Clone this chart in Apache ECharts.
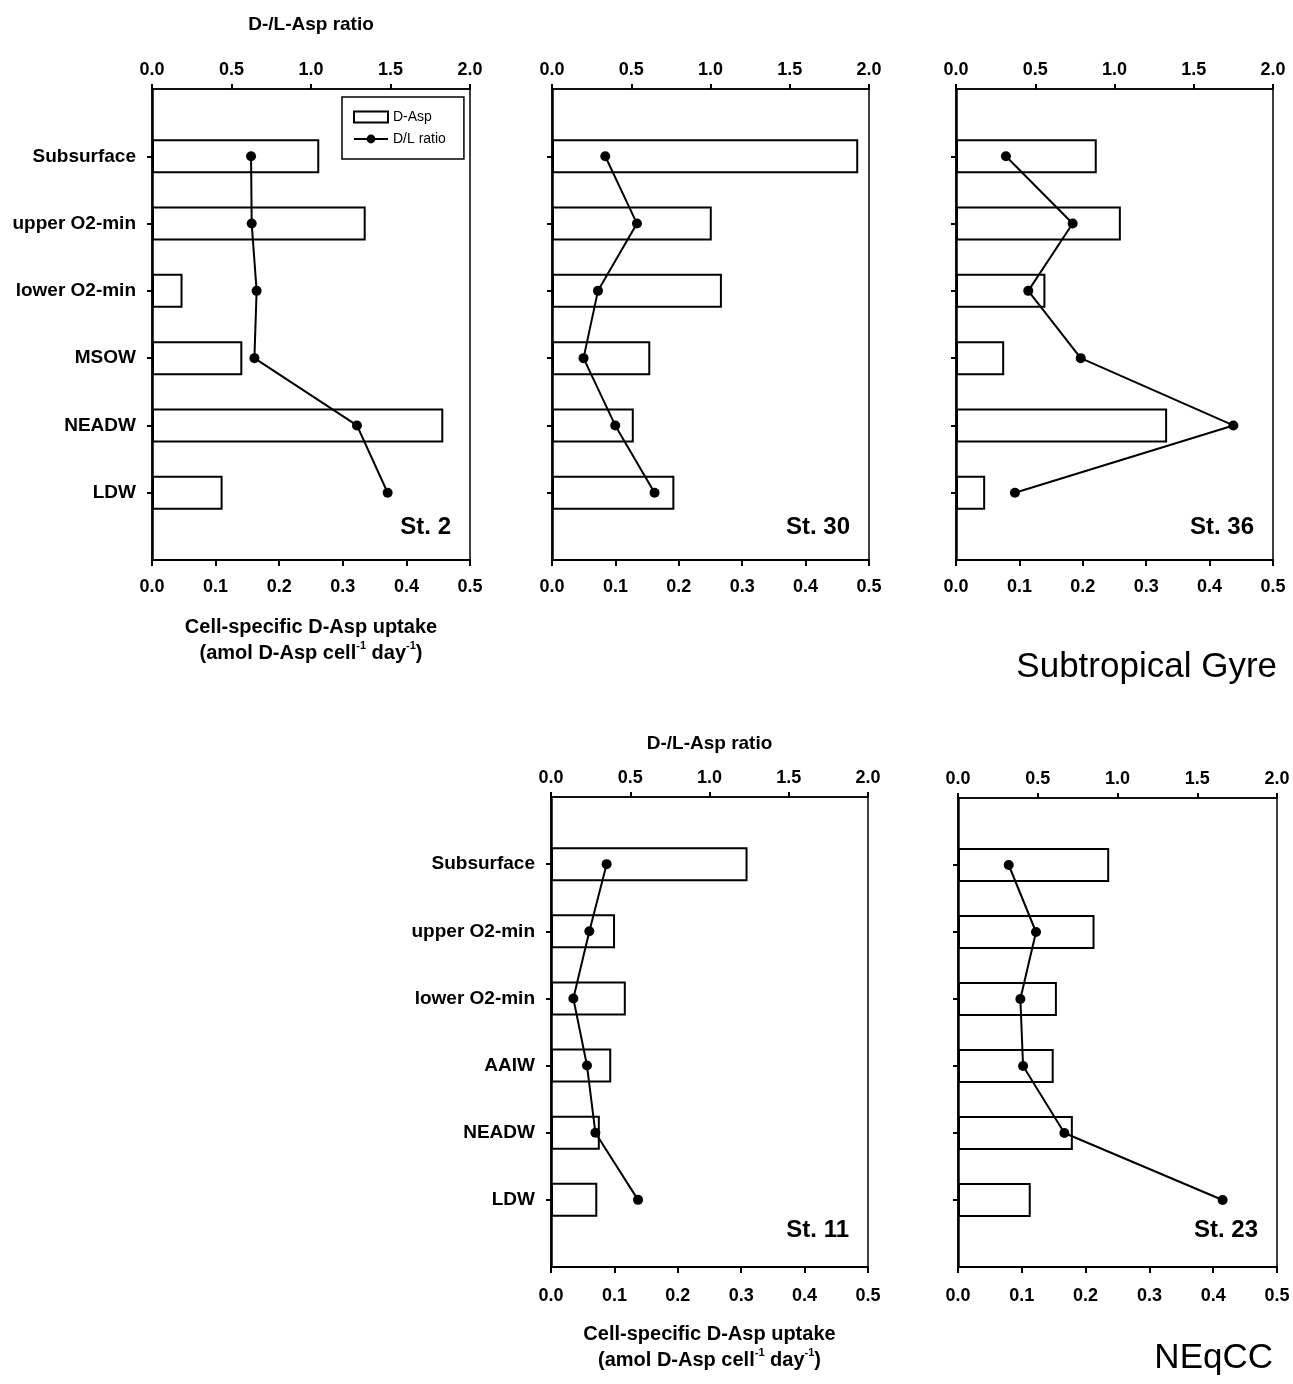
<!DOCTYPE html>
<html>
<head>
<meta charset="utf-8">
<script src="https://cdn.jsdelivr.net/npm/echarts@6/dist/echarts.min.js"></script>
<style>
  html, body { margin: 0; padding: 0; background: #fff; }
  #chart { width: 1293px; height: 1384px; }
</style>
</head>
<body>
<div id="chart"></div>
<script>
// Water masses sampled at each station (top to bottom)
const catsGyre  = ['Subsurface', 'upper O2-min', 'lower O2-min', 'MSOW', 'NEADW', 'LDW'];
const catsNEqCC = ['Subsurface', 'upper O2-min', 'lower O2-min', 'AAIW', 'NEADW', 'LDW'];

// Cell-specific D-Asp uptake (amol D-Asp cell-1 day-1)
const uptakeSt2  = [0.263, 0.336, 0.048, 0.142, 0.458, 0.111];
const uptakeSt30 = [0.483, 0.252, 0.268, 0.155, 0.129, 0.193];
const uptakeSt36 = [0.222, 0.260, 0.141, 0.076, 0.333, 0.046];
const uptakeSt11 = [0.310, 0.101, 0.118, 0.095, 0.077, 0.073];
const uptakeSt23 = [0.237, 0.214, 0.155, 0.150, 0.180, 0.114];

// D-/L-Asp ratio
const ratioSt2  = [0.623, 0.627, 0.658, 0.644, 1.289, 1.482];
const ratioSt30 = [0.336, 0.536, 0.290, 0.199, 0.399, 0.647];
const ratioSt36 = [0.315, 0.736, 0.456, 0.787, 1.750, 0.372];
const ratioSt11 = [0.351, 0.242, 0.141, 0.227, 0.280, 0.549];
const ratioSt23 = [0.318, 0.489, 0.391, 0.408, 0.667, 1.659];

// Axis ranges and tick steps
const uptakeRange = [0, 0.5];
const uptakeStep = 0.1;
const ratioRange = [0, 2.0];
const ratioStep = 0.5;

const FONT = '"Liberation Sans", Arial, Helvetica, sans-serif';

const panels = [
  { station: 'St. 2',  cats: catsGyre,  uptake: uptakeSt2,  ratio: ratioSt2,
    box: [152, 89, 318, 471], catLabels: true, topName: 65, bottomName: true, row: 0 },
  { station: 'St. 30', cats: catsGyre,  uptake: uptakeSt30, ratio: ratioSt30,
    box: [552, 89, 317, 471], row: 0 },
  { station: 'St. 36', cats: catsGyre,  uptake: uptakeSt36, ratio: ratioSt36,
    box: [956, 89, 317, 471], row: 0 },
  { station: 'St. 11', cats: catsNEqCC, uptake: uptakeSt11, ratio: ratioSt11,
    box: [551, 797, 317, 470], catLabels: true, topName: 54, bottomName: true, row: 1 },
  { station: 'St. 23', cats: catsNEqCC, uptake: uptakeSt23, ratio: ratioSt23,
    box: [958, 798, 319, 469], row: 1 }
];

const grids = [], xAxes = [], yAxes = [], series = [], graphics = [];

panels.forEach((p, i) => {
  const [left, top, width, height] = p.box;
  grids.push({
    left, top, width, height,
    show: true, borderColor: '#000', borderWidth: 1.5,
    backgroundColor: 'transparent',
    outerBoundsMode: 'none', containLabel: false
  });

  // bottom axis: uptake
  xAxes.push({
    gridIndex: i, type: 'value', position: 'bottom',
    min: uptakeRange[0], max: uptakeRange[1], interval: uptakeStep,
    axisLine: { show: true, onZero: false, lineStyle: { color: '#000', width: 2 } },
    axisTick: { show: true, inside: false, length: 6, lineStyle: { color: '#000', width: 2 } },
    axisLabel: {
      show: true, margin: p.row === 0 ? 18 : 20, color: '#000',
      fontSize: 18, fontWeight: 'bold', fontFamily: FONT,
      showMinLabel: true, showMaxLabel: true,
      formatter: v => v.toFixed(1)
    },
    splitLine: { show: false },
    name: p.bottomName
      ? '{b|Cell-specific D-Asp uptake}\n{b|(amol D-Asp cell}{s|-1}{b| day}{s|-1}{b|)}'
      : '',
    nameLocation: 'middle',
    nameGap: 54,
    nameTextStyle: {
      color: '#000',
      rich: {
        b: { fontSize: 20, fontWeight: 'bold', fontFamily: FONT, color: '#000', lineHeight: 26 },
        s: { fontSize: 11, fontWeight: 'bold', fontFamily: FONT, color: '#000',
             lineHeight: 26, verticalAlign: 'top', padding: [0, 0, 8, 0] }
      }
    }
  });

  // top axis: D/L ratio
  xAxes.push({
    gridIndex: i, type: 'value', position: 'top',
    min: ratioRange[0], max: ratioRange[1], interval: ratioStep,
    axisLine: { show: true, onZero: false, lineStyle: { color: '#000', width: 1.5 } },
    axisTick: { show: true, inside: false, length: 5, lineStyle: { color: '#000', width: 2 } },
    axisLabel: {
      show: true, margin: 10, color: '#000',
      fontSize: 18, fontWeight: 'bold', fontFamily: FONT,
      showMinLabel: true, showMaxLabel: true,
      formatter: v => v.toFixed(1)
    },
    splitLine: { show: false },
    name: p.topName ? 'D-/L-Asp ratio' : '',
    nameLocation: 'middle',
    nameGap: p.topName ? p.topName - 10 : 0,
    nameTextStyle: { color: '#000', fontSize: 19, fontWeight: 'bold', fontFamily: FONT }
  });

  // category axis, padded by one empty slot above and below
  const yData = [''].concat(p.cats, [' ']);
  const last = yData.length - 1;
  yAxes.push({
    gridIndex: i, type: 'category', data: yData, inverse: true, boundaryGap: false,
    axisLine: { show: true, lineStyle: { color: '#000', width: 2.5 } },
    axisTick: { show: true, inside: false, length: 5, lineStyle: { color: '#000', width: 2 },
                interval: idx => idx > 0 && idx < last },
    axisLabel: {
      show: !!p.catLabels, interval: 0, margin: 16, color: '#000',
      fontSize: 19, fontWeight: 'bold', fontFamily: FONT
    },
    splitLine: { show: false }
  });

  series.push({
    type: 'bar', name: 'D-Asp',
    xAxisIndex: 2 * i, yAxisIndex: i,
    data: p.cats.map((c, k) => [p.uptake[k], c]),
    barWidth: 34,
    itemStyle: { color: '#fff', borderColor: '#000', borderWidth: 2 },
    silent: true, z: 2
  });
  series.push({
    type: 'line', name: 'D/L ratio',
    xAxisIndex: 2 * i + 1, yAxisIndex: i,
    data: p.cats.map((c, k) => [p.ratio[k], c]),
    symbol: 'circle', symbolSize: 10,
    lineStyle: { color: '#000', width: 2 },
    itemStyle: { color: '#000' },
    silent: true, z: 3
  });

  graphics.push({
    type: 'text',
    x: left + width - 19,
    y: top + height - (p.row === 0 ? 33 : 37),
    style: {
      text: p.station, fill: '#000',
      font: 'bold 24px ' + FONT,
      textAlign: 'right', textVerticalAlign: 'middle'
    }
  });
});

// region labels
graphics.push({
  type: 'text', x: 1277, y: 667,
  style: { text: 'Subtropical Gyre', fill: '#000', font: '35px ' + FONT,
           textAlign: 'right', textVerticalAlign: 'middle' }
});
graphics.push({
  type: 'text', x: 1273, y: 1358,
  style: { text: 'NEqCC', fill: '#000', font: '35px ' + FONT,
           textAlign: 'right', textVerticalAlign: 'middle' }
});

const chart = echarts.init(document.getElementById('chart'), null, { renderer: 'canvas' });
chart.setOption({
  backgroundColor: '#fff',
  animation: false,
  grid: grids,
  xAxis: xAxes,
  yAxis: yAxes,
  series: series,
  legend: {
    show: true,
    data: [{ name: 'D-Asp', icon: 'rect' }, { name: 'D/L ratio' }],
    orient: 'vertical',
    left: 342, top: 97,
    padding: [13, 18, 13, 11],
    itemGap: 8,
    itemWidth: 34, itemHeight: 11,
    borderColor: '#000', borderWidth: 1.5, borderRadius: 0,
    backgroundColor: '#fff',
    selectedMode: false,
    textStyle: { color: '#000', fontSize: 14, fontFamily: FONT }
  },
  graphic: graphics
});
</script>
</body>
</html>
